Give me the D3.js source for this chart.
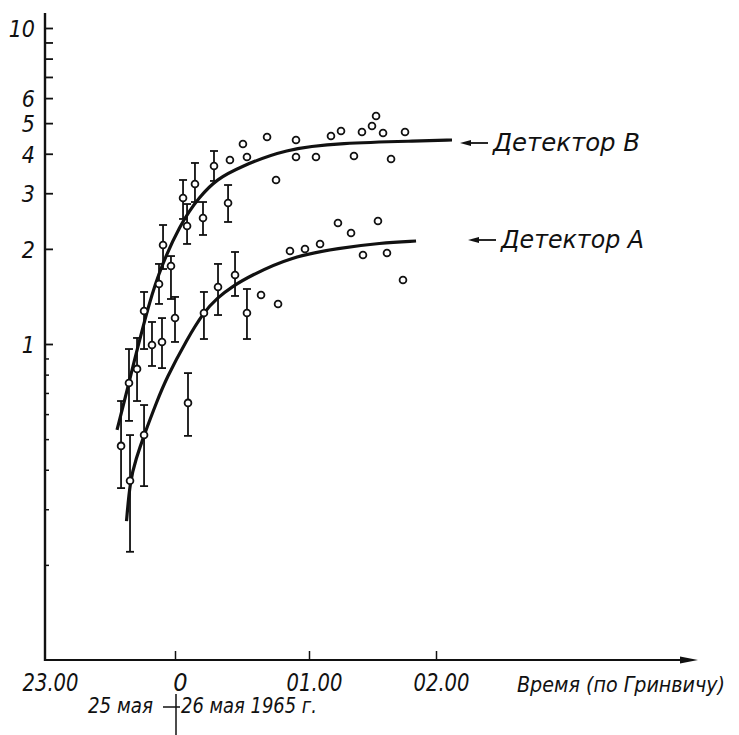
<!DOCTYPE html>
<html>
<head>
<meta charset="utf-8" />
<style>
    body { margin: 0; background: #fff; }
    svg { width: 739px; height: 735px; display: block; }
    text { font-family: "Liberation Sans Narrow", "DejaVu Sans Condensed", sans-serif; font-style: italic; fill: #111; }
</style>
</head>
<body>
<svg id="chart"></svg>
<script src="https://cdnjs.cloudflare.com/ajax/libs/d3/7.8.5/d3.min.js"></script>
<script>
// time in hours from 00:00 UT 26 May 1965 (negative = 25 May), rate values
// [time, value, errLow, errHigh]
var detectorB = [
    [-0.415, 0.476, 0.350, 0.660], [-0.354, 0.753, 0.571, 0.964], [-0.292, 0.834, 0.660, 1.045],
    [-0.238, 1.272, 0.964, 1.461], [-0.123, 1.549, 1.339, 1.792], [-0.092, 2.057, 1.727, 2.380],
    [-0.031, 1.765, 1.388, 1.898], [0.060, 2.897, 2.487, 3.304], [0.090, 2.363, 2.073, 2.773],
    [0.149, 3.209, 2.814, 3.740], [0.209, 2.505, 2.213, 2.814], [0.291, 3.659, 3.281, 4.081],
    [0.396, 2.794, 2.433, 3.185],
    [0.410, 3.822], [0.507, 4.296], [0.537, 3.906], [0.687, 4.520], [0.754, 3.304],
    [0.903, 4.422], [0.903, 3.906], [1.055, 3.906], [1.173, 4.552], [1.252, 4.721],
    [1.354, 3.935], [1.417, 4.688], [1.496, 4.897], [1.528, 5.267], [1.583, 4.654],
    [1.646, 3.850], [1.756, 4.688]
];
var detectorA = [
    [-0.346, 0.369, 0.220, 0.515], [-0.238, 0.515, 0.355, 0.641], [-0.177, 0.993, 0.852, 1.174],
    [-0.100, 1.015, 0.839, 1.208], [0.000, 1.208, 1.015, 1.409], [0.097, 0.651, 0.512, 0.809],
    [0.216, 1.253, 1.037, 1.461], [0.321, 1.515, 1.235, 1.792], [0.448, 1.653, 1.419, 1.955],
    [0.537, 1.253, 1.037, 1.493],
    [0.642, 1.429], [0.769, 1.339], [0.858, 1.970], [0.970, 1.998], [1.087, 2.073],
    [1.228, 2.415], [1.331, 2.245], [1.425, 1.912], [1.543, 2.450], [1.614, 1.941], [1.740, 1.594]
];
// smooth curves drawn through the points
var curveB = [[-0.446, 0.535], [-0.354, 0.753], [-0.323, 0.852], [-0.231, 1.200], [-0.138, 1.641],
    [0.037, 2.398], [0.187, 2.941], [0.313, 3.327], [0.485, 3.632], [0.821, 4.142],
    [1.244, 4.326], [1.874, 4.389], [2.126, 4.422]];
var curveA = [[-0.373, 0.275], [-0.346, 0.369], [-0.300, 0.433], [-0.238, 0.515], [-0.138, 0.660],
    [-0.069, 0.775], [0.090, 1.037], [0.216, 1.263], [0.313, 1.398], [0.433, 1.526], [0.560, 1.641],
    [0.858, 1.885], [1.244, 2.013], [1.559, 2.087], [1.843, 2.118]];

var xTicks = [-1, 0, 1, 2];
var xTickLabels = ['23.00', '0', '01.00', '02.00'];
var yMajorTicks = [1, 2, 3, 4, 5, 6, 7, 8, 9, 10];
var yMinorTicks = [0.2, 0.3, 0.4, 0.5, 0.6, 0.7, 0.8, 0.9];
var yTickLabels = [1, 2, 3, 4, 5, 6, 10];

var svg = d3.select('#chart');

// hand-drawn axis: hour spacing is not perfectly even on the original
var x = d3.scaleLinear().domain(xTicks).range([45, 175, 309, 436]);
var y = d3.scaleLog().domain([0.1, 10]).range([660, 28]);

var ax = svg.append('g');
ax.append('line').attr('x1', 45).attr('x2', 45).attr('y1', 661).attr('y2', 13)
    .attr('stroke', '#111').attr('stroke-width', 2.4);
ax.append('line').attr('x1', 44).attr('x2', 684).attr('y1', 660).attr('y2', 660)
    .attr('stroke', '#111').attr('stroke-width', 2);
ax.append('path').attr('d', 'M680,656.5 L698,660 L680,663.5 Z').attr('fill', '#111');

var yMajor = svg.append('g').attr('transform', 'translate(45,0)')
    .call(d3.axisLeft(y).tickValues(yMajorTicks).tickSizeInner(-8).tickSizeOuter(0).tickPadding(10)
        .tickFormat(function(d){ return yTickLabels.indexOf(d) >= 0 ? d : ''; }));
yMajor.select('.domain').remove();
yMajor.selectAll('line').attr('stroke', '#111').attr('stroke-width', 1.8);
yMajor.selectAll('text').attr('font-size', 23).attr('font-family', null).attr('dy', '0.36em');

var yMinor = svg.append('g').attr('transform', 'translate(45,0)')
    .call(d3.axisLeft(y).tickValues(yMinorTicks).tickSizeInner(-4).tickSizeOuter(0).tickFormat(''));
yMinor.select('.domain').remove();
yMinor.selectAll('line').attr('stroke', '#111').attr('stroke-width', 1.5);

var xAxis = svg.append('g').attr('transform', 'translate(0,660)')
    .call(d3.axisBottom(x).tickValues(xTicks).tickSizeInner(-9).tickSizeOuter(0).tickPadding(13)
        .tickFormat(function(d, i){ return xTickLabels[i]; }));
xAxis.select('.domain').remove();
xAxis.selectAll('line').attr('stroke', '#111').attr('stroke-width', 1.5)
    .filter(function(d){ return d == -1; }).remove();
xAxis.selectAll('text').attr('font-size', 25).attr('font-family', null).attr('dx', 5)
    .filter(function(d, i){ return xTickLabels[i].length > 1; })
    .attr('textLength', 56).attr('lengthAdjust', 'spacingAndGlyphs');

svg.append('text').attr('x', 517).attr('y', 692).attr('font-size', 22)
    .attr('textLength', 208).attr('lengthAdjust', 'spacingAndGlyphs')
    .text('Время (по Гринвичу)');

// date separator under midnight
svg.append('text').attr('x', 88).attr('y', 713).attr('font-size', 22)
    .attr('textLength', 65).attr('lengthAdjust', 'spacingAndGlyphs').text('25 мая');
svg.append('text').attr('x', 181).attr('y', 713).attr('font-size', 22)
    .attr('textLength', 136).attr('lengthAdjust', 'spacingAndGlyphs').text('26 мая 1965 г.');
svg.append('line').attr('x1', x(0) + 1).attr('x2', x(0) + 1).attr('y1', 694).attr('y2', 735)
    .attr('stroke', '#111').attr('stroke-width', 1.5);
svg.append('line').attr('x1', x(0) - 12).attr('x2', x(0) + 5).attr('y1', 707).attr('y2', 707)
    .attr('stroke', '#111').attr('stroke-width', 1.5);

// fitted curves
var line = d3.line()
    .x(function(d){ return x(d[0]); })
    .y(function(d){ return y(d[1]); })
    .curve(d3.curveBasis);

svg.selectAll('.fit')
    .data([curveB, curveA])
    .enter().append('path')
    .attr('class', 'fit')
    .attr('d', line)
    .attr('fill', 'none')
    .attr('stroke', '#111')
    .attr('stroke-width', 3.2);

var all = detectorB.concat(detectorA);
var bars = all.filter(function(d){ return d.length > 2; });

var err = svg.selectAll('.err').data(bars).enter().append('g').attr('class', 'err')
    .attr('stroke', '#111').attr('stroke-width', 1.8);
err.append('line')
    .attr('x1', function(d){ return x(d[0]); }).attr('x2', function(d){ return x(d[0]); })
    .attr('y1', function(d){ return y(d[2]); }).attr('y2', function(d){ return y(d[3]); });
err.append('line')
    .attr('x1', function(d){ return x(d[0]) - 4; }).attr('x2', function(d){ return x(d[0]) + 4; })
    .attr('y1', function(d){ return y(d[2]); }).attr('y2', function(d){ return y(d[2]); });
err.append('line')
    .attr('x1', function(d){ return x(d[0]) - 4; }).attr('x2', function(d){ return x(d[0]) + 4; })
    .attr('y1', function(d){ return y(d[3]); }).attr('y2', function(d){ return y(d[3]); });

svg.selectAll('.pt')
    .data(all)
    .enter().append('circle')
    .attr('class', 'pt')
    .attr('cx', function(d){ return x(d[0]); })
    .attr('cy', function(d){ return y(d[1]); })
    .attr('r', 3.4)
    .attr('fill', '#fff')
    .attr('stroke', '#111')
    .attr('stroke-width', 1.8);

// detector labels with arrows
var labels = [
    { name: 'Детектор B', ax: 460, ay: 143, w: 147 },
    { name: 'Детектор A', ax: 468, ay: 240, w: 143 }
];
var lab = svg.selectAll('.lab').data(labels).enter().append('g').attr('class', 'lab');
lab.append('line')
    .attr('x1', function(d){ return d.ax + 6; }).attr('x2', function(d){ return d.ax + 28; })
    .attr('y1', function(d){ return d.ay; }).attr('y2', function(d){ return d.ay; })
    .attr('stroke', '#111').attr('stroke-width', 1.8);
lab.append('path')
    .attr('d', function(d){ return 'M' + d.ax + ',' + d.ay + ' L' + (d.ax + 11) + ',' + (d.ay - 3) + ' L' + (d.ax + 11) + ',' + (d.ay + 3) + ' Z'; })
    .attr('fill', '#111');
lab.append('text')
    .attr('x', function(d){ return d.ax + 33; })
    .attr('y', function(d){ return d.ay + 8; })
    .attr('font-size', 24)
    .attr('textLength', function(d){ return d.w; })
    .attr('lengthAdjust', 'spacingAndGlyphs')
    .text(function(d){ return d.name; });
</script>
</body>
</html>
